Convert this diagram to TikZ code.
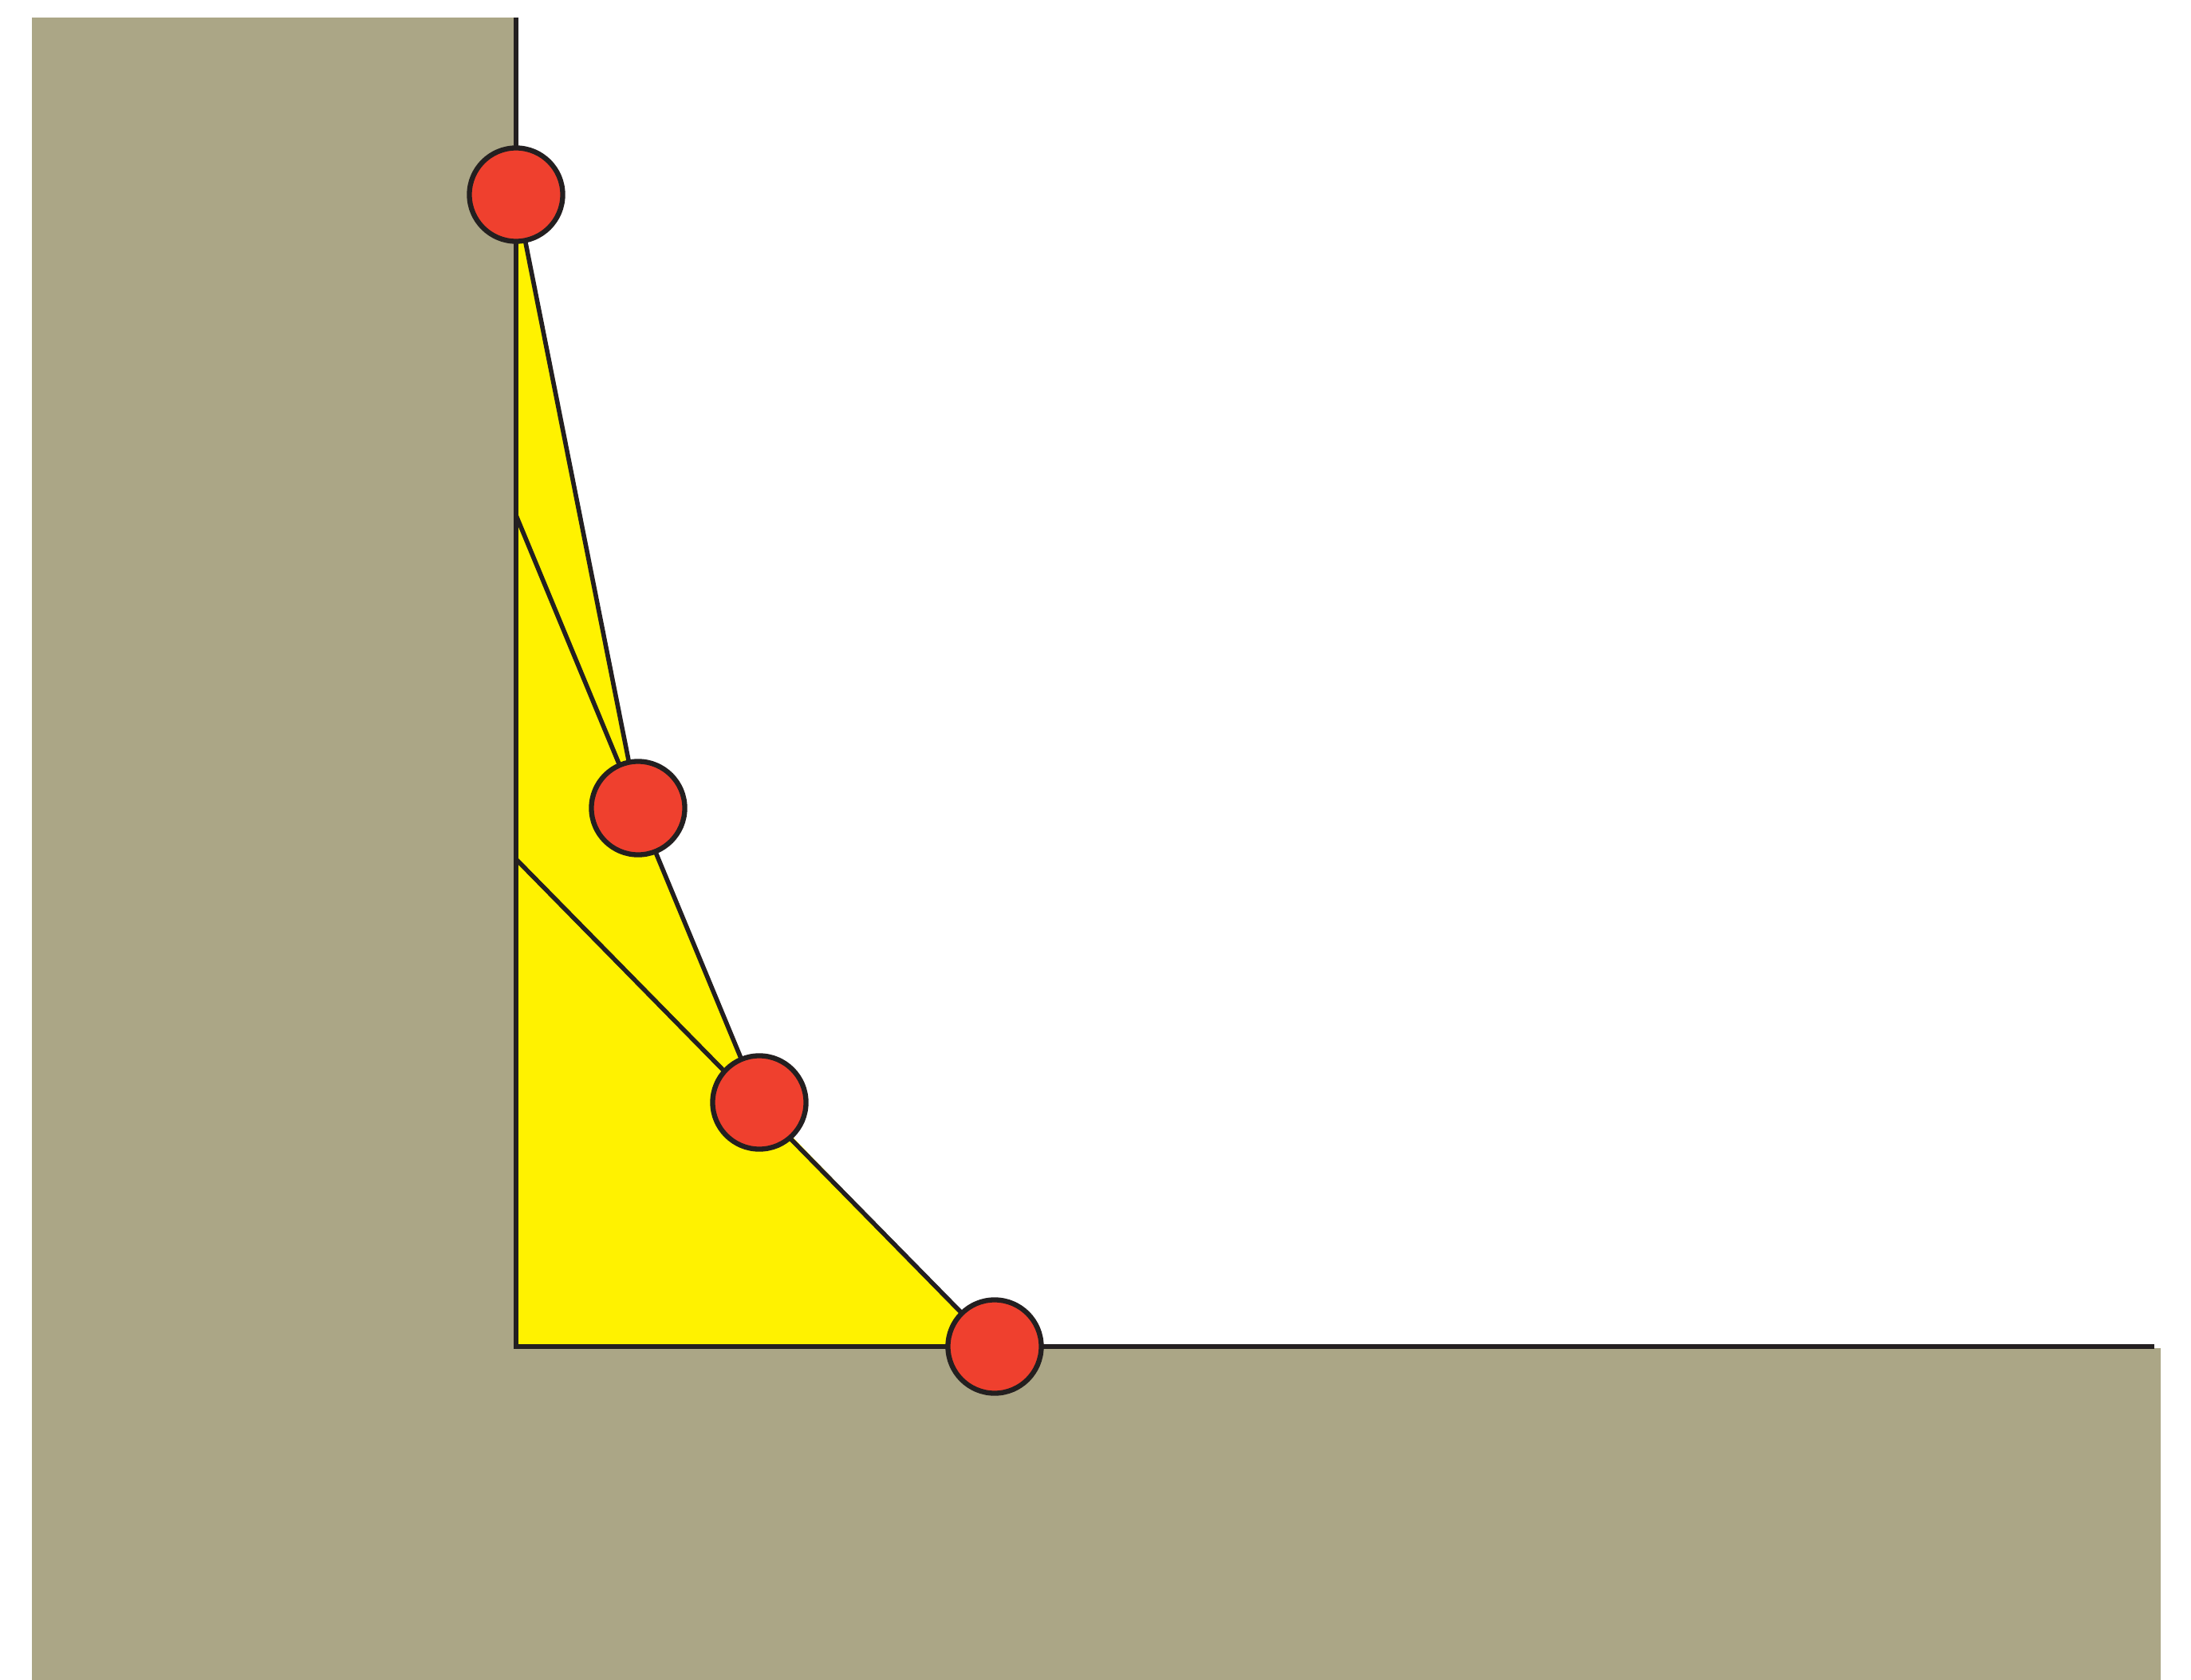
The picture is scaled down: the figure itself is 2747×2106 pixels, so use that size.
\documentclass[tikz,border=0pt]{standalone}
\usetikzlibrary{backgrounds}
\definecolor{soil}{RGB}{171,166,134}
\definecolor{wedge}{RGB}{255,242,0}
\definecolor{jointred}{RGB}{239,64,46}
\definecolor{ink}{RGB}{35,31,32}
\begin{document}
\begin{tikzpicture}[x=0.01cm, y=-0.01cm,
    joint/.style={circle, draw=ink, fill=jointred, line width=1.8pt,
      minimum size=1.17cm, inner sep=0pt},
    bar/.style={draw=ink, line width=1.6pt},
    wall/.style={draw=ink, line width=1.8pt}
  ]
  \useasboundingbox (0,0) rectangle (2747,2106);
  % joints
  \node[joint] (j1) at (647,244)  {};
  \node[joint] (j2) at (800,1013) {};
  \node[joint] (j3) at (952,1382) {};
  \node[joint] (j4) at (1247,1688) {};
  % anchors on the wall
  \coordinate (a2) at (647,646);
  \coordinate (a3) at (647,1077);
  \coordinate (top) at (647,22);
  \coordinate (corner) at (647,1688);
  \coordinate (end) at (2701,1688);
  \begin{scope}[on background layer]
    \fill[soil] (40,22) rectangle (647,1690);
    \fill[soil] (40,1690) rectangle (2709,2106);
    \fill[wedge] (j1.center) -- (j2.center) -- (j3.center) -- (j4.center)
      -- (corner) -- cycle;
    \draw[bar] (j1.center) -- (j2.center);
    \draw[bar] (a2) -- (j3.center);
    \draw[bar] (a3) -- (j4.center);
    \draw[wall] (top) -- (corner) -- (end);
  \end{scope}
\end{tikzpicture}
\end{document}
